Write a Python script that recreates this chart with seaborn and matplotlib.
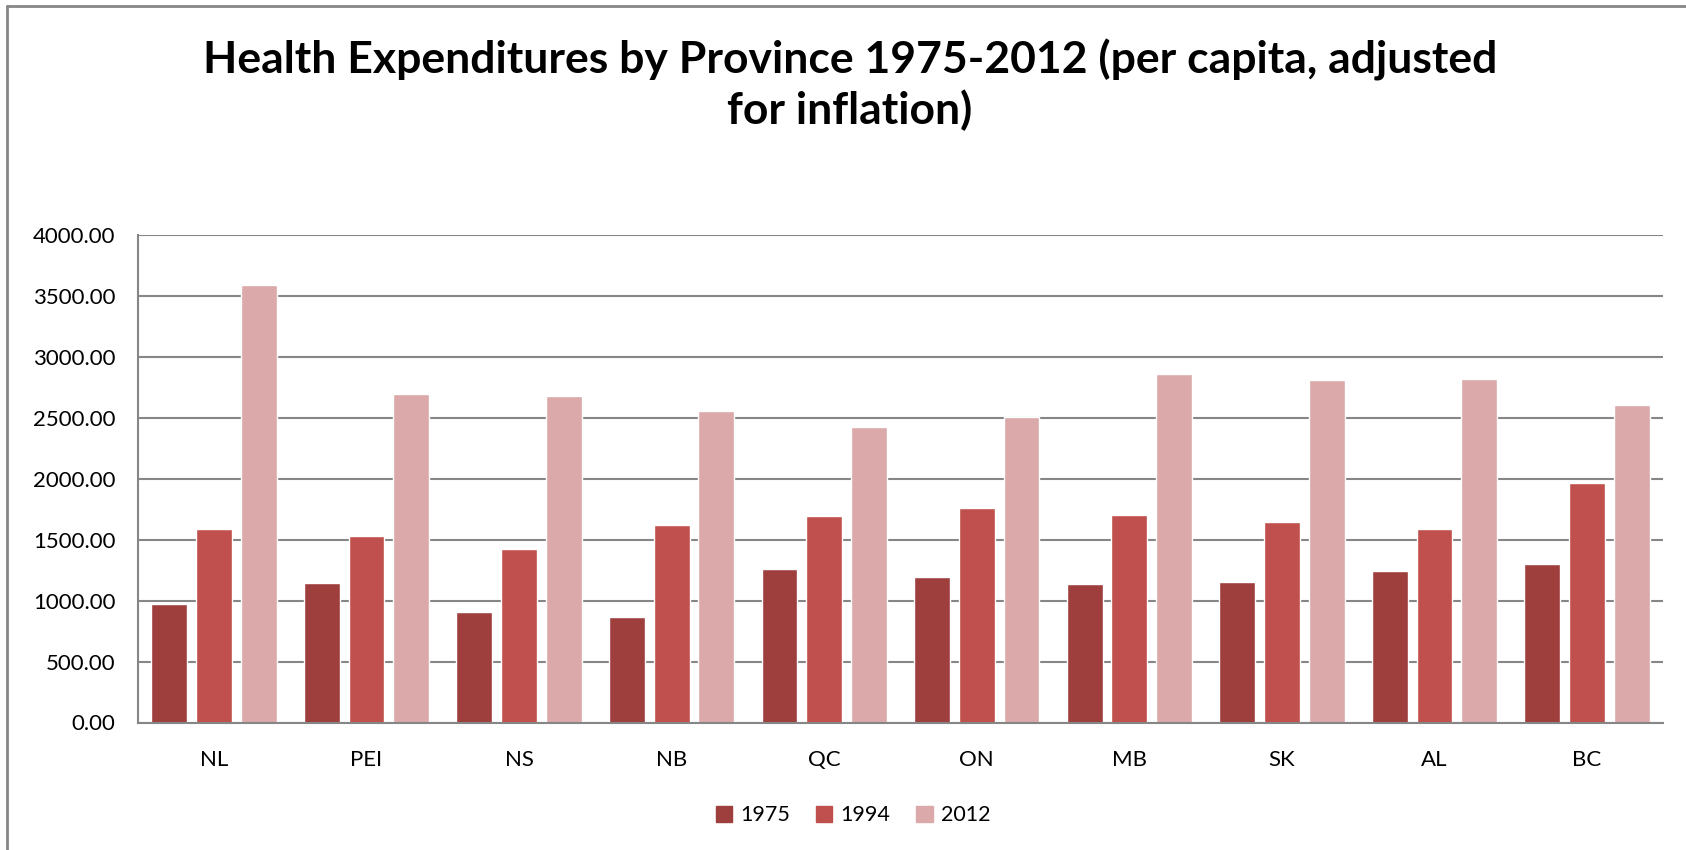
import pandas as pd
import matplotlib.pyplot as plt
import seaborn as sns
from matplotlib.lines import Line2D

# 데이터
provinces = ['NL', 'PEI', 'NS', 'NB', 'QC', 'ON', 'MB', 'SK', 'AL', 'BC']
years = ['1975', '1994', '2012']
vals_1975 = [970, 1145, 907, 866, 1257, 1198, 1141, 1155, 1248, 1300]
vals_1994 = [1588, 1528, 1421, 1618, 1692, 1760, 1702, 1645, 1587, 1970]
vals_2012 = [3595, 2696, 2685, 2562, 2423, 2513, 2860, 2815, 2818, 2605]
bar_colors = ['#9E3F3D', '#C0504D', '#DBA9A9']

df = pd.DataFrame({
    'province': provinces * 3,
    'year': [y for y in years for _ in provinces],
    'value': vals_1975 + vals_1994 + vals_2012,
})

sns.set_theme(style='white')
plt.rcParams['font.family'] = ['Lato', 'DejaVu Sans']
plt.rcParams['text.color'] = 'black'

fig = plt.figure(figsize=(16.86, 8.5), dpi=100)
ax = fig.add_axes([0.0816, 0.150, 0.905, 0.573])

sns.barplot(data=df, x='province', y='value', hue='year', palette=bar_colors,
            width=0.88, gap=0.2, ax=ax, saturation=1, legend=False)

ax.set_xlim(-0.5, 9.5)
ax.set_ylim(0, 4000)
ax.set_yticks(range(0, 4001, 500))
ax.set_yticklabels([f'{v:.2f}' for v in range(0, 4001, 500)])
ax.set_xlabel('')
ax.set_ylabel('')
ax.yaxis.grid(True, color='#868686', linewidth=1.5)
ax.set_axisbelow(True)
for s in ['top', 'right']:
    ax.spines[s].set_visible(False)
for s in ['left', 'bottom']:
    ax.spines[s].set_color('#868686')
    ax.spines[s].set_linewidth(1.5)
ax.tick_params(axis='y', length=0, pad=16, labelsize=16, labelcolor='black')
ax.tick_params(axis='x', length=0, pad=20, labelsize=16, labelcolor='black')

fig.text(0.504, 0.90, 'Health Expenditures by Province 1975-2012 (per capita, adjusted\nfor inflation)',
         ha='center', va='center', fontsize=32, fontweight='bold', linespacing=1.25,
         color='black')

handles = [plt.Rectangle((0, 0), 1, 1, color=c) for c in bar_colors]
fig.legend(handles, years, loc='center', bbox_to_anchor=(0.506, 0.041), ncol=3,
           frameon=False, fontsize=15.5, handlelength=0.75, handleheight=0.75,
           handletextpad=0.4, columnspacing=1.2)

# 바깥 테두리
fig.add_artist(Line2D([7 / 1686, 1.0], [1 - 5.5 / 850] * 2, color='#868686', linewidth=2))
fig.add_artist(Line2D([7 / 1686] * 2, [0.0, 1 - 5.5 / 850], color='#868686', linewidth=2))

plt.savefig('out.png')
